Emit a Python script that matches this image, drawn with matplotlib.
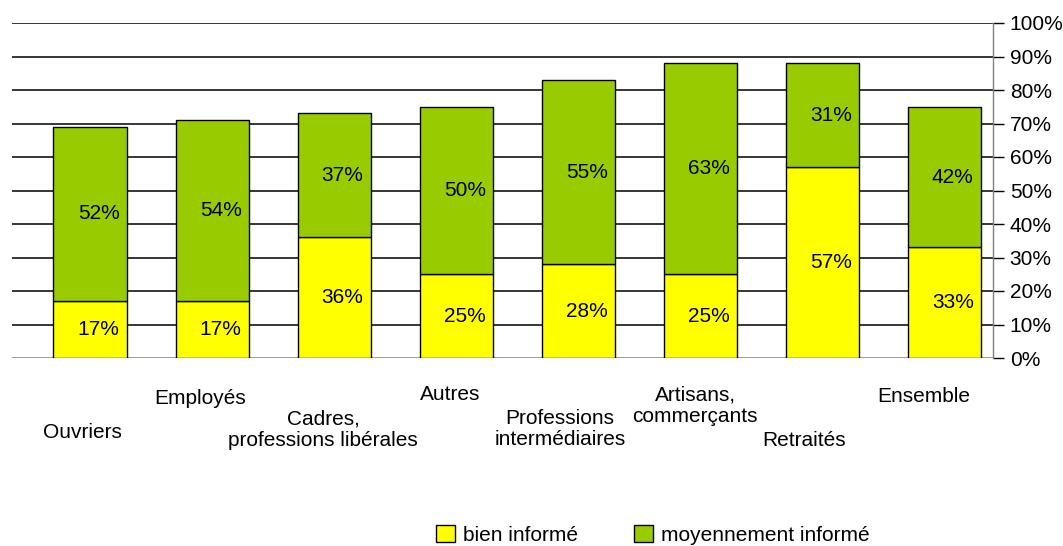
import matplotlib.pyplot as plt
import numpy as np
from matplotlib.patches import Patch
from matplotlib.transforms import blended_transform_factory

plt.rcParams["font.family"] = ["Liberation Sans", "DejaVu Sans"]

# Data
categories = [
    "Ouvriers",
    "Employés",
    "Cadres,\nprofessions libérales",
    "Autres",
    "Professions\nintermédiaires",
    "Artisans,\ncommerçants",
    "Retraités",
    "Ensemble",
]
bien_informe = [17, 17, 36, 25, 28, 25, 57, 33]
moyennement_informe = [52, 54, 37, 50, 55, 63, 31, 42]
yticks = [0, 10, 20, 30, 40, 50, 60, 70, 80, 90, 100]

YELLOW = "#FFFF00"
GREEN = "#99CC00"
FS = 15

fig = plt.figure(figsize=(10.63, 5.46), dpi=100)
ax = fig.add_axes([12 / 1063, 1 - 358 / 546, (993 - 12) / 1063, 335 / 546])

x = np.arange(len(categories))
bien = np.array(bien_informe)
moy = np.array(moyennement_informe)

# gridlines
for t in yticks[1:]:
    ax.axhline(t, color="black", lw=1.1, zorder=0)
ax.axhline(0, color="#808080", lw=1.1, zorder=0)

ax.bar(x, bien, width=0.6, color=YELLOW, edgecolor="black", lw=1.0, zorder=2)
ax.bar(x, moy, width=0.6, bottom=bien, color=GREEN, edgecolor="black",
       lw=1.0, zorder=2)

# value labels
for i in range(len(x)):
    ax.text(x[i] + 0.07, bien[i] / 2, f"{bien[i]}%", ha="center",
            va="center", fontsize=FS, zorder=3)
    ax.text(x[i] + 0.07, bien[i] + moy[i] / 2, f"{moy[i]}%", ha="center",
            va="center", fontsize=FS, zorder=3)

ax.set_xlim(-0.64, 7.40)
ax.set_ylim(0, 100)

for side in ["top", "left", "bottom"]:
    ax.spines[side].set_visible(False)
ax.spines["right"].set_color("#808080")
ax.spines["right"].set_linewidth(1.0)

ax.set_xticks([])
ax.yaxis.tick_right()
ax.set_yticks(yticks)
ax.set_yticklabels([f"{t}%" for t in yticks], fontsize=FS)
ax.tick_params(axis="y", direction="out", length=8, width=1.0,
               color="black", pad=4)

# staggered category labels (figure y in pixels)
label_dx = [-0.06, -0.10, -0.09, -0.05, -0.15, -0.04, -0.15, -0.17]
label_y = [432, 398, 430, 395, 429, 406, 441, 397]
trans = blended_transform_factory(ax.transData, fig.transFigure)
for i, lab in enumerate(categories):
    ax.text(x[i] + label_dx[i], 1 - label_y[i] / 546, lab, transform=trans,
            ha="center", va="center", fontsize=FS, linespacing=1.17,
            clip_on=False)

handles = [
    Patch(facecolor=YELLOW, edgecolor="black", lw=1.0, label="bien informé"),
    Patch(facecolor=GREEN, edgecolor="black", lw=1.0,
          label="moyennement informé"),
]
fig.legend(handles=handles, loc="center",
           bbox_to_anchor=(653 / 1063, 1 - 535 / 546),
           ncol=2, frameon=False, fontsize=FS, handlelength=0.9,
           handleheight=0.9, handletextpad=0.4, columnspacing=2.7,
           borderaxespad=0, borderpad=0)

fig.savefig("out.png", dpi=100)
